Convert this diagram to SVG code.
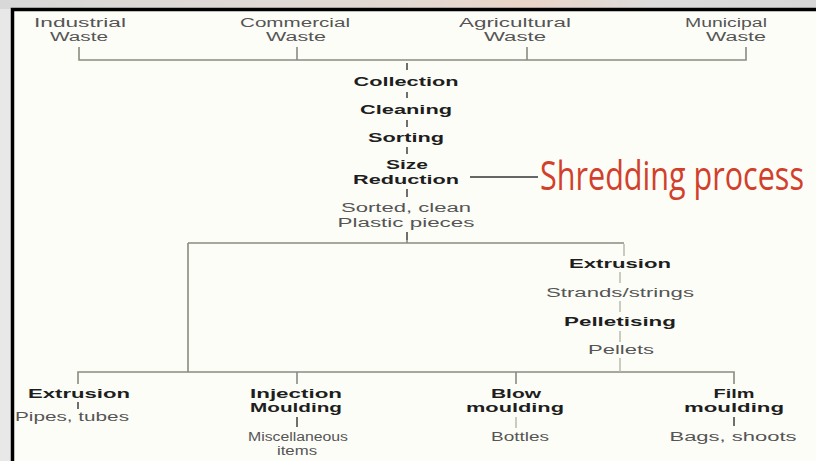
<svg xmlns="http://www.w3.org/2000/svg" width="816" height="461" viewBox="0 0 816 461">
<defs>
<style>
.b{font-family:"Liberation Sans",Arial,sans-serif;font-weight:bold;font-size:12px;fill:#1e1e1e;text-anchor:middle}
.r{font-family:"Liberation Sans",Arial,sans-serif;font-size:12px;fill:#555;text-anchor:middle}
.ln{stroke:#8a8a80;stroke-width:1.6;fill:none}
.tk{stroke:#333;stroke-width:1.4;fill:none}
.lt{stroke:#b5b5a5;stroke-width:1.4;fill:none}
.red{font-family:"Open Sans","Liberation Sans",sans-serif;font-size:30px;fill:#d2402c;text-anchor:start}
</style>
<linearGradient id="top" x1="0" y1="0" x2="1" y2="0">
<stop offset="0" stop-color="#d8d8d8"/>
<stop offset="0.5" stop-color="#e3d8d2"/>
<stop offset="0.65" stop-color="#ead4c8"/>
<stop offset="0.8" stop-color="#dcdcdc"/>
<stop offset="1" stop-color="#d6d6d6"/>
</linearGradient>
</defs>
<rect x="0" y="0" width="816" height="461" fill="#e8e8e8"/>
<rect x="0" y="0" width="816" height="9" fill="url(#top)"/>
<rect x="13" y="10" width="803" height="451" fill="#fdfdf8"/>
<path d="M12.5 461 V9.5 H816" stroke="#000" stroke-width="3.5" fill="none"/>

<g id="connectors">
<path class="ln" d="M79 47 V60 H746 V47 M297 47 V60 M527 47 V60"/>
<path class="tk" d="M407 63 V70 M407 92 V98 M407 120 V127 M407 147 V154 M407 189 V197 M407 232 V240"/>
<path class="tk" d="M470 177 H538"/>
<path class="ln" d="M407 240 V243 M188 243 H624 M188 243 V372 M78 384 V372 H734 V384 M297 372 V384 M516 372 V384"/>
<path class="lt" d="M624 244 V256 M620 272 V283 M620 301 V312 M620 331 V342 M620 358 V372"/>
<path class="tk" d="M78 402 V409 M297 417 V427 M734 417 V426"/>
<path class="lt" d="M516 417 V428"/>
</g>

<g id="industrial"><text class="r" x="80" y="27" textLength="92" lengthAdjust="spacingAndGlyphs">Industrial</text><text class="r" x="79" y="41" textLength="58" lengthAdjust="spacingAndGlyphs">Waste</text></g>
<g id="commercial"><text class="r" x="295" y="27" textLength="110" lengthAdjust="spacingAndGlyphs">Commercial</text><text class="r" x="296" y="41" textLength="60" lengthAdjust="spacingAndGlyphs">Waste</text></g>
<g id="agricultural"><text class="r" x="515" y="27" textLength="112" lengthAdjust="spacingAndGlyphs">Agricultural</text><text class="r" x="515" y="41" textLength="62" lengthAdjust="spacingAndGlyphs">Waste</text></g>
<g id="municipal"><text class="r" x="726" y="27" textLength="82" lengthAdjust="spacingAndGlyphs">Municipal</text><text class="r" x="736" y="41" textLength="60" lengthAdjust="spacingAndGlyphs">Waste</text></g>

<g id="collection"><text class="b" x="406" y="86" textLength="105" lengthAdjust="spacingAndGlyphs">Collection</text></g>
<g id="cleaning"><text class="b" x="406" y="114" textLength="92" lengthAdjust="spacingAndGlyphs">Cleaning</text></g>
<g id="sorting"><text class="b" x="406" y="142" textLength="76" lengthAdjust="spacingAndGlyphs">Sorting</text></g>
<g id="size-reduction"><text class="b" x="407" y="169" textLength="42" lengthAdjust="spacingAndGlyphs">Size</text><text class="b" x="406" y="184" textLength="106" lengthAdjust="spacingAndGlyphs">Reduction</text></g>
<g id="shredding" transform="translate(540 190) scale(1 1.33)"><text class="red" x="0" y="0" textLength="264" lengthAdjust="spacingAndGlyphs">Shredding process</text></g>
<g id="sorted"><text class="r" x="406" y="212" textLength="130" lengthAdjust="spacingAndGlyphs">Sorted, clean</text><text class="r" x="406" y="227" textLength="137" lengthAdjust="spacingAndGlyphs">Plastic pieces</text></g>

<g id="extrusion-r"><text class="b" x="620" y="268" textLength="102" lengthAdjust="spacingAndGlyphs">Extrusion</text></g>
<g id="strands"><text class="r" x="620" y="297" textLength="148" lengthAdjust="spacingAndGlyphs">Strands/strings</text></g>
<g id="pelletising"><text class="b" x="620" y="326" textLength="112" lengthAdjust="spacingAndGlyphs">Pelletising</text></g>
<g id="pellets"><text class="r" x="621" y="354" textLength="66" lengthAdjust="spacingAndGlyphs">Pellets</text></g>

<g id="extrusion-b"><text class="b" x="79" y="398" textLength="102" lengthAdjust="spacingAndGlyphs">Extrusion</text><text class="r" x="72" y="421" textLength="114" lengthAdjust="spacingAndGlyphs">Pipes, tubes</text></g>
<g id="injection"><text class="b" x="296" y="398" textLength="92" lengthAdjust="spacingAndGlyphs">Injection</text><text class="b" x="296" y="412" textLength="92" lengthAdjust="spacingAndGlyphs">Moulding</text><text class="r" x="298" y="441" textLength="100" lengthAdjust="spacingAndGlyphs">Miscellaneous</text><text class="r" x="297" y="455" textLength="40" lengthAdjust="spacingAndGlyphs">items</text></g>
<g id="blow"><text class="b" x="516" y="398" textLength="50" lengthAdjust="spacingAndGlyphs">Blow</text><text class="b" x="515" y="412" textLength="98" lengthAdjust="spacingAndGlyphs">moulding</text><text class="r" x="520" y="441" textLength="58" lengthAdjust="spacingAndGlyphs">Bottles</text></g>
<g id="film"><text class="b" x="734" y="398" textLength="41" lengthAdjust="spacingAndGlyphs">Film</text><text class="b" x="734" y="412" textLength="100" lengthAdjust="spacingAndGlyphs">moulding</text><text class="r" x="733" y="441" textLength="127" lengthAdjust="spacingAndGlyphs">Bags, shoots</text></g>
</svg>
